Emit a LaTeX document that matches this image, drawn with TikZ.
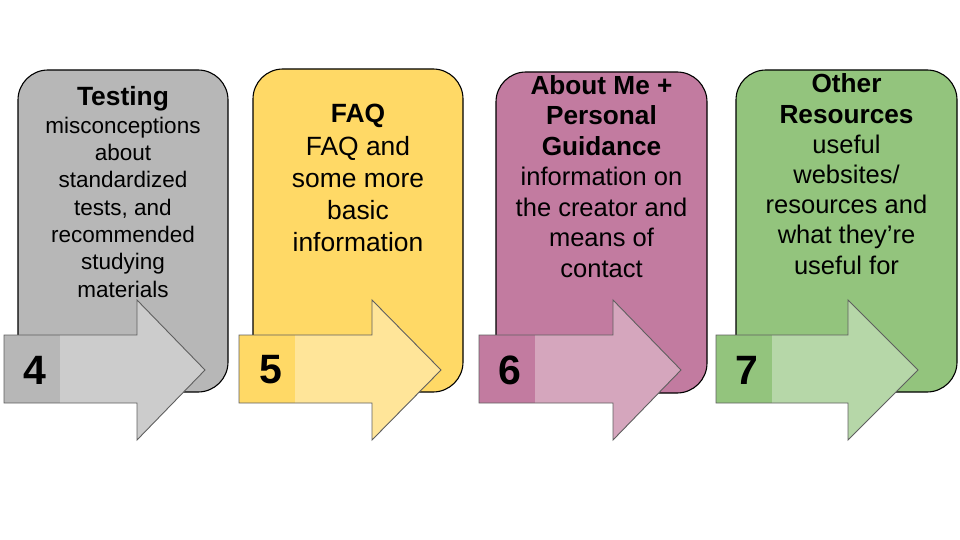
\documentclass[tikz,border=0pt]{standalone}
\usepackage{fontspec}
\setmainfont{Liberation Sans}
\definecolor{grayCard}{HTML}{B7B7B7}
\definecolor{grayArrow}{HTML}{CCCCCC}
\definecolor{yellowCard}{HTML}{FFD966}
\definecolor{yellowArrow}{HTML}{FFE599}
\definecolor{pinkCard}{HTML}{C27BA0}
\definecolor{pinkArrow}{HTML}{D5A6BD}
\definecolor{greenCard}{HTML}{93C47D}
\definecolor{greenArrow}{HTML}{B6D7A8}
\definecolor{arrowEdge}{HTML}{5F5F5F}
\tikzset{
  card/.style={draw=black, line width=1.1pt, rounded corners=30pt},
  arrowbody/.style={draw=arrowEdge, line width=0.9pt, line join=miter},
  % the base anchor of a multi-line node sits on its last line
  cardtext/.style={align=center, anchor=base, inner sep=0pt},
  numtext/.style={font=\fontsize{41}{41}\selectfont\bfseries, inner sep=0pt},
}
\begin{document}
\begin{tikzpicture}[x=1pt, y=-1pt]
\useasboundingbox (0,0) rectangle (960,540);

% ---------- cards ----------
\draw[card, fill=grayCard]   (18,70)  rectangle (228,392);
\draw[card, fill=yellowCard] (253,69) rectangle (463,392);
\draw[card, fill=pinkCard]   (496,72) rectangle (707,393);
\draw[card, fill=greenCard]  (736,70) rectangle (957,392);

% ---------- card texts ----------
\node[cardtext, font=\fontsize{22.5}{27.3}\selectfont] (t4) at (123,297)
  {{\fontsize{26.4}{27.3}\selectfont\textbf{Testing}}\\[0.7pt]misconceptions\\about\\standardized\\tests, and\\recommended\\studying\\materials};
\node[cardtext, font=\fontsize{26.4}{32}\selectfont] (t5) at (358,251)
  {\textbf{FAQ}\\FAQ and\\some more\\basic\\information};
\node[cardtext, font=\fontsize{25.5}{30.5}\selectfont] (t6) at (601.5,277)
  {{\fontsize{26.2}{30.5}\selectfont\textbf{About Me +}}\\{\fontsize{26.2}{30.5}\selectfont\textbf{Personal}}\\{\fontsize{26.2}{30.5}\selectfont\textbf{Guidance}}\\information on\\the creator and\\means of\\contact};
\node[cardtext, font=\fontsize{25.5}{30.2}\selectfont] (t7) at (846.5,274)
  {{\fontsize{26.2}{30.2}\selectfont\textbf{Other}}\\{\fontsize{26.2}{30.2}\selectfont\textbf{Resources}}\\useful\\websites/\\resources and\\what they’re\\useful for};

% ---------- arrows ----------
% arrow 4
\fill[grayArrow] (4,335) -- (137,335) -- (137,300) -- (205,370) -- (137,440) -- (137,403) -- (4,403) -- cycle;
\fill[grayCard] (4,335) rectangle (60,403);
\draw[arrowbody] (4,335) -- (137,335) -- (137,300) -- (205,370) -- (137,440) -- (137,403) -- (4,403) -- cycle;
\node[numtext] (n4) at (35,370) {4};

% arrow 5
\fill[yellowArrow] (239,335) -- (372,335) -- (372,300) -- (441,370) -- (372,440) -- (372,403) -- (239,403) -- cycle;
\fill[yellowCard] (239,335) rectangle (295,403);
\draw[arrowbody] (239,335) -- (372,335) -- (372,300) -- (441,370) -- (372,440) -- (372,403) -- (239,403) -- cycle;
\node[numtext] (n5) at (271,370) {5};

% arrow 6
\fill[pinkArrow] (479,335) -- (613,335) -- (613,300) -- (681,370) -- (613,440) -- (613,403) -- (479,403) -- cycle;
\fill[pinkCard] (479,335) rectangle (535,403);
\draw[arrowbody] (479,335) -- (613,335) -- (613,300) -- (681,370) -- (613,440) -- (613,403) -- (479,403) -- cycle;
\node[numtext] (n6) at (510,370) {6};

% arrow 7
\fill[greenArrow] (716,335) -- (848,335) -- (848,300) -- (918,370) -- (848,440) -- (848,403) -- (716,403) -- cycle;
\fill[greenCard] (716,335) rectangle (772,403);
\draw[arrowbody] (716,335) -- (848,335) -- (848,300) -- (918,370) -- (848,440) -- (848,403) -- (716,403) -- cycle;
\node[numtext] (n7) at (747,370) {7};
\end{tikzpicture}
\end{document}
